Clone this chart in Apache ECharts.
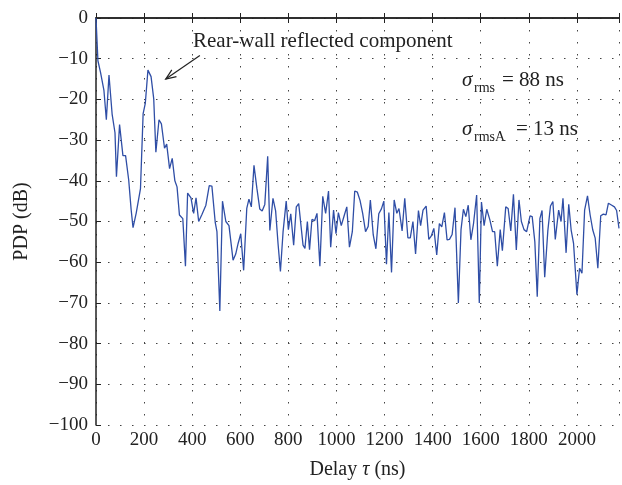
<!DOCTYPE html>
<html>
<head>
<meta charset="utf-8">
<script src="https://cdn.jsdelivr.net/npm/echarts@6/dist/echarts.min.js"></script>
<style>
html,body{margin:0;padding:0;background:#fff;}
#chart{width:622px;height:485px;}
</style>
</head>
<body>
<div id="chart"></div>
<script>
// Delay (ns) samples
const delays = [
  0, 8, 19, 33, 43, 54, 67, 79, 85, 98, 112, 123, 136, 146, 154, 167, 175, 185, 196, 205,
  216, 229, 240, 249, 262, 272, 285, 294, 306, 317, 328, 337, 347, 361, 372, 381, 395, 406, 416, 427,
  441, 457, 471, 482, 496, 503, 515, 526, 540, 553, 570, 581, 591, 602, 614, 627, 636, 646, 657, 669,
  681, 691, 702, 714, 723, 736, 747, 757, 767, 778, 791, 800, 810, 822, 833, 843, 853, 861, 869, 879,
  888, 898, 909, 919, 931, 943, 955, 967, 976, 988, 998, 1008, 1020, 1032, 1043, 1054, 1066, 1076, 1087, 1098,
  1109, 1121, 1132, 1141, 1153, 1164, 1176, 1187, 1197, 1208, 1218, 1229, 1240, 1251, 1260, 1273, 1284, 1297, 1307, 1318,
  1329, 1341, 1350, 1360, 1373, 1384, 1394, 1405, 1417, 1428, 1438, 1449, 1460, 1470, 1481, 1493, 1507, 1518, 1528, 1538,
  1548, 1559, 1570, 1583, 1594, 1603, 1614, 1625, 1638, 1649, 1658, 1669, 1681, 1690, 1704, 1714, 1725, 1736, 1748, 1759,
  1769, 1780, 1791, 1805, 1814, 1825, 1835, 1846, 1855, 1866, 1879, 1890, 1900, 1910, 1924, 1934, 1942, 1955, 1966, 1976,
  1986, 2000, 2011, 2021, 2032, 2044, 2055, 2066, 2076, 2087, 2099, 2110, 2121, 2131, 2145, 2156, 2165, 2175
];
// PDP (dB) values
const pdp = [
  0, -10.5, -13.4, -17.8, -25, -14, -23.6, -28.2, -39, -26.2, -33.8, -33.8, -39.8, -47, -51.5, -48, -47.6, -41.9, -23.5, -21,
  -12.8, -14.4, -19.8, -33, -25, -26, -32, -31, -37, -34.5, -40, -41.5, -48.4, -49.3, -61, -43, -44.2, -48, -44.2, -50,
  -48.2, -46, -41.2, -41.3, -50.3, -52.5, -72, -45, -50, -51, -59.5, -58, -55.4, -53, -62, -46.8, -44.5, -46.4, -36.2, -41.8,
  -46.9, -47.4, -45.8, -34, -52.2, -44.3, -47.4, -55.4, -62.3, -52.5, -45, -52, -48.1, -55.8, -46.4, -45.6, -51.3, -55.8, -56.6, -50,
  -56.9, -49.5, -49.8, -48, -61, -43.8, -48, -42.5, -56.3, -47.2, -53, -47.8, -51, -48.6, -46.4, -56.3, -52.5, -42.5, -42.8, -44.8,
  -48, -52.5, -51.2, -44.7, -53.3, -56.7, -48.1, -46.9, -45, -60.5, -47.8, -62.5, -44.7, -48, -46.8, -52.3, -44.3, -54, -54, -50,
  -58, -47.3, -51, -47.2, -46.2, -54.4, -53.6, -51.7, -58.2, -50.5, -51.3, -47.8, -54.5, -54.4, -53.2, -46.6, -70, -52, -47, -48.8,
  -46, -54.5, -50.5, -43.5, -70, -45.2, -51, -47, -49.6, -52.5, -52.5, -61, -52, -57.2, -46.4, -46.8, -52.3, -43.3, -57, -44.7,
  -50, -52, -52.5, -48.6, -48.8, -55, -68.5, -49.3, -47.3, -63.7, -52.3, -46.2, -45.1, -54.4, -47.2, -50, -44.3, -57.7, -45.8, -52.1,
  -55.4, -68, -61.5, -62.7, -47.2, -43.7, -48.4, -52.1, -54.1, -61.5, -48.6, -48.2, -48.4, -45.5, -46, -46.4, -47.3, -51.7
];
const xMin = 0, xMax = 2175, xStep = 200;
const yMin = -100, yMax = 0, yStep = 10;
const yTitle = 'PDP (dB)';
const annotation = 'Rear-wall reflected component';
// arrow of the annotation: tail and head in data coordinates
const arrowTail = [432, -9.2];
const arrowHead = [290, -15];

const FONT = '"Liberation Serif", "DejaVu Serif", serif';
const INK = '#222';
const data = delays.map((d, i) => [d, pdp[i]]);
const gridDots = { color: '#444', width: 1, type: [1.5, 10.5] };

const chart = echarts.init(document.getElementById('chart'), null, { renderer: 'canvas' });
chart.setOption({
  animation: false,
  backgroundColor: '#fff',
  grid: { left: 96, right: 0, top: 18, bottom: 60, containLabel: false },
  xAxis: [{
    type: 'value', min: xMin, max: xMax, interval: xStep, position: 'bottom',
    name: '{t|Delay }{i|τ}{t| (ns)}', nameLocation: 'middle', nameGap: 35,
    nameTextStyle: { rich: {
      t: { fontFamily: FONT, fontSize: 20, color: INK },
      i: { fontFamily: FONT, fontSize: 20, color: INK, fontStyle: 'italic' } } },
    axisLine: { show: true, lineStyle: { color: INK, width: 1.5 } },
    axisTick: { show: true, inside: true, length: 5, lineStyle: { color: INK } },
    axisLabel: { fontFamily: FONT, fontSize: 19, color: INK, margin: 6,
      formatter: v => (v % xStep === 0 ? String(v) : '') },
    splitLine: { show: true, lineStyle: gridDots }
  }, {
    type: 'value', min: xMin, max: xMax, interval: xStep, position: 'top',
    axisLine: { show: true, onZero: false, lineStyle: { color: INK, width: 1.5 } },
    axisTick: { show: true, inside: true, length: 5, lineStyle: { color: INK } },
    axisLabel: { show: false }, splitLine: { show: false }
  }],
  yAxis: {
    type: 'value', min: yMin, max: yMax, interval: yStep,
    name: yTitle, nameLocation: 'middle', nameGap: 64, nameRotate: 90,
    nameTextStyle: { fontFamily: FONT, fontSize: 20, color: INK },
    axisLine: { show: true, onZero: false, lineStyle: { color: INK, width: 1.5 } },
    axisTick: { show: true, inside: true, length: 5, lineStyle: { color: INK } },
    axisLabel: { fontFamily: FONT, fontSize: 19, color: INK, margin: 8,
      formatter: v => String(v).replace('-', '\u2212') },
    splitLine: { show: true, lineStyle: gridDots }
  },
  series: [{
    type: 'line', data: data, showSymbol: false, symbol: 'none',
    lineStyle: { color: '#2f4ea6', width: 1.3 }
  }]
});

// annotation arrow (open V head), positioned from data coordinates
const t = chart.convertToPixel({ gridIndex: 0 }, arrowTail);
const h = chart.convertToPixel({ gridIndex: 0 }, arrowHead);
const ang = Math.atan2(t[1] - h[1], t[0] - h[0]);
const L = 11, spread = 0.38;
const w1 = [h[0] + L * Math.cos(ang + spread), h[1] + L * Math.sin(ang + spread)];
const w2 = [h[0] + L * Math.cos(ang - spread), h[1] + L * Math.sin(ang - spread)];

chart.setOption({
  graphic: [
    { type: 'line', shape: { x1: t[0], y1: t[1], x2: h[0], y2: h[1] }, style: { stroke: INK, lineWidth: 1.2 } },
    { type: 'polyline', shape: { points: [w1, h, w2] }, style: { stroke: INK, lineWidth: 1.2, fill: null } },
    { type: 'text', left: 193, top: 31, style: { text: annotation, font: '21px ' + FONT, fill: INK } },
    { type: 'text', left: 462, top: 70, style: { text: 'σ', font: 'italic 21px ' + FONT, fill: INK } },
    { type: 'text', left: 474, top: 81, style: { text: 'rms', font: '14px ' + FONT, fill: INK } },
    { type: 'text', left: 502, top: 70, style: { text: '= 88 ns', font: '21px ' + FONT, fill: INK } },
    { type: 'text', left: 462, top: 119, style: { text: 'σ', font: 'italic 21px ' + FONT, fill: INK } },
    { type: 'text', left: 474, top: 130, style: { text: 'rmsA', font: '14px ' + FONT, fill: INK } },
    { type: 'text', left: 516, top: 119, style: { text: '= 13 ns', font: '21px ' + FONT, fill: INK } }
  ]
});
</script>
</body>
</html>
